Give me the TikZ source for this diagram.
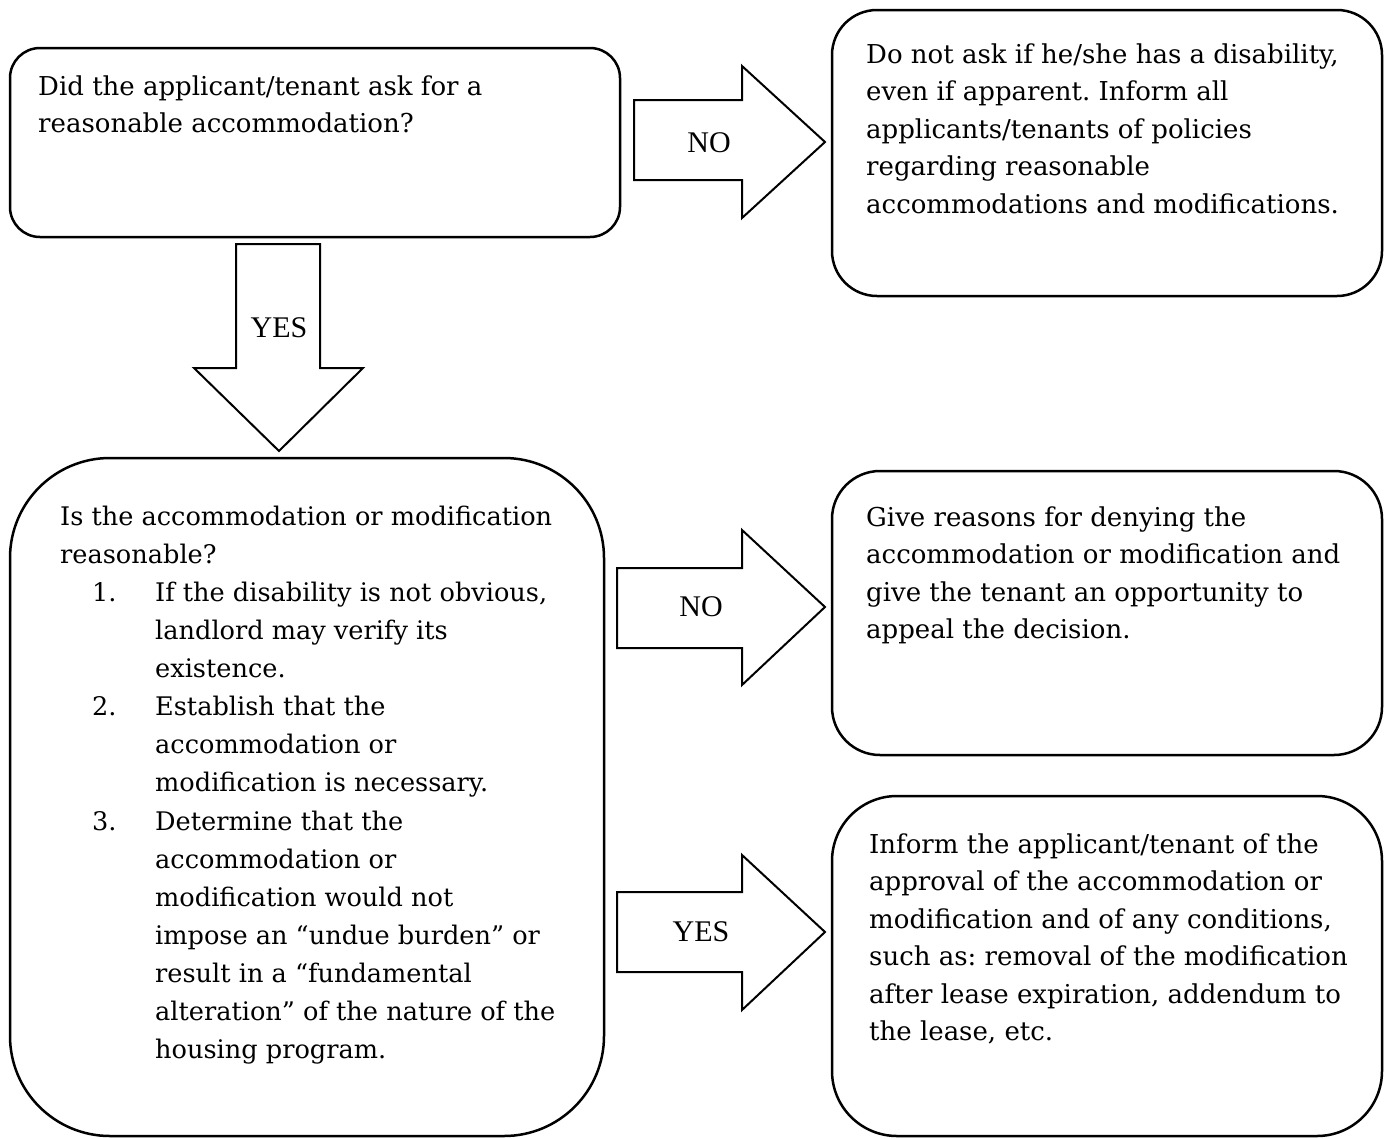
\documentclass[tikz,border=0pt]{standalone}
\usepackage{fontspec}
\setmainfont{DejaVu Serif}
\newfontfamily\lblfont{Liberation Serif}
\frenchspacing
\begin{document}
\begin{tikzpicture}[x=1pt,y=-1pt,
  box/.style={draw=black, line width=2.5pt},
  barrow/.style={draw=black, line width=2pt, line join=miter, fill=white},
  txt/.style={anchor=north west, inner sep=0pt, align=left,
    font=\frenchspacing\fontsize{26}{37.5}\selectfont},
  lbl/.style={inner sep=0pt, font=\lblfont\fontsize{30}{30}\selectfont}]
\useasboundingbox (0,0) rectangle (1387,1138);
% boxes
\draw[box, rounded corners=30pt] (10,48) rectangle (620,237);
\draw[box, rounded corners=45pt] (832,10) rectangle (1382,296);
\draw[box, rounded corners=100pt] (10,458) rectangle (604,1136);
\draw[box, rounded corners=48pt] (832,471) rectangle (1382,755);
\draw[box, rounded corners=65pt] (832,796) rectangle (1382,1136);
% block arrows
\draw[barrow] (634,100) -- (742,100) -- (742,66) -- (825,142) -- (742,218) -- (742,180) -- (634,180) -- cycle;
\draw[barrow] (236,244) -- (320,244) -- (320,368) -- (363,368) -- (279,451) -- (194,368) -- (236,368) -- cycle;
\draw[barrow] (617,568) -- (742,568) -- (742,530) -- (825,607) -- (742,685) -- (742,648) -- (617,648) -- cycle;
\draw[barrow] (617,892) -- (742,892) -- (742,855) -- (825,932) -- (742,1010) -- (742,972) -- (617,972) -- cycle;
\node[lbl] (no1) at (709,143) {NO};
\node[lbl] (yes1) at (279,328) {YES};
\node[lbl] (no2) at (701,607) {NO};
\node[lbl] (yes2) at (701,932) {YES};
% texts
\node[txt] (t1) at (38,74) {\rule{0pt}{21pt}Did the applicant/tenant ask for a\\reasonable accommodation?};
\node[txt] (t2) at (866,42) {\rule{0pt}{21pt}Do not ask if he/she has a disability,\\even if apparent. Inform all\\applicants/tenants of policies\\regarding reasonable\\accommodations and modifications.};
\node[txt] (t4) at (866,505) {\rule{0pt}{21pt}Give reasons for denying the\\accommodation or modification and\\give the tenant an opportunity to\\appeal the decision.};
\node[txt] (t5) at (869,832) {\rule{0pt}{21pt}Inform the applicant/tenant of the\\approval of the accommodation or\\modification and of any conditions,\\such as: removal of the modification\\after lease expiration, addendum to\\the lease, etc.};
\node[txt, font=\frenchspacing\fontsize{25.6}{38.1}\selectfont] (t3) at (60,504) {\rule{0pt}{21pt}Is the accommodation or modification\\
reasonable?\\
\hspace*{32pt}\makebox[63pt][l]{1.}If the disability is not obvious,\\
\hspace*{95pt}landlord may verify its\\
\hspace*{95pt}existence.\\
\hspace*{32pt}\makebox[63pt][l]{2.}Establish that the\\
\hspace*{95pt}accommodation or\\
\hspace*{95pt}modification is necessary.\\
\hspace*{32pt}\makebox[63pt][l]{3.}Determine that the\\
\hspace*{95pt}accommodation or\\
\hspace*{95pt}modification would not\\
\hspace*{95pt}impose an \textquotedblleft undue burden\textquotedblright\ or\\
\hspace*{95pt}result in a \textquotedblleft fundamental\\
\hspace*{95pt}alteration\textquotedblright\ of the nature of the\\
\hspace*{95pt}housing program.};
\end{tikzpicture}
\end{document}
